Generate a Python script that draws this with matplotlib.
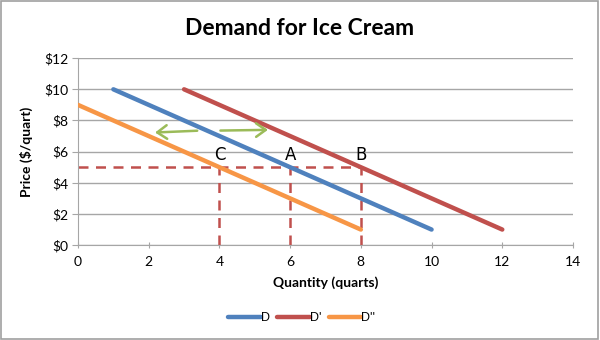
import numpy as np
import matplotlib
matplotlib.use("Agg")
from matplotlib import pyplot as plt
from matplotlib.patches import Rectangle

# Demand curves (quantity, price)
qty_D = [1, 10]
price_D = [10, 1]
qty_D1 = [3, 12]
price_D1 = [10, 1]
qty_D2 = [0, 8]
price_D2 = [9, 1]

# Points C, A, B at price $5
point_names = ["C", "A", "B"]
point_qty = [4, 6, 8]
point_price = 5

# shift arrows (tail x, head x, y)
arrow_left = [(3.45, 7.35), (2.1, 7.22)]
arrow_right = [(3.95, 7.35), (5.45, 7.4)]

x_ticks = [0, 2, 4, 6, 8, 10, 12, 14]
y_ticks = [0, 2, 4, 6, 8, 10, 12]

blue = "#4F81BD"
red = "#C0504D"
orange = "#F79646"
green = "#9BBB59"
grid = "#A6A6A6"

plt.rcParams['font.family'] = ['Lato', 'DejaVu Sans']

fig = plt.figure(figsize=(6, 3.4), dpi=100)
ax = fig.add_axes([0.13, 0.279, 0.825, 0.55])

# dashed guide lines
ax.plot([0, max(point_qty)], [point_price, point_price], color=red, lw=1.8,
        dashes=(4, 3), zorder=2)
for q in point_qty:
    ax.plot([q, q], [0, point_price], color=red, lw=1.8, dashes=(4, 3), zorder=2)

lD, = ax.plot(qty_D, price_D, color=blue, lw=3.2, solid_capstyle='round', label="D", zorder=3)
lD1, = ax.plot(qty_D1, price_D1, color=red, lw=3.2, solid_capstyle='round', label="D'", zorder=3)
lD2, = ax.plot(qty_D2, price_D2, color=orange, lw=3.2, solid_capstyle='round', label="D''", zorder=3)

for name, q in zip(point_names, point_qty):
    ax.text(q, point_price + 0.2, name, ha='center', va='bottom', fontsize=12,
            family=['DejaVu Sans'], zorder=5)

for (t, h) in [arrow_left, arrow_right]:
    ax.annotate("", xy=h, xytext=t,
                arrowprops=dict(arrowstyle='->,head_length=0.5,head_width=0.35',
                                color=green, lw=1.8, mutation_scale=14), zorder=4)

ax.set_xlim(0, 14)
ax.set_ylim(0, 12)
ax.set_xticks(x_ticks)
ax.set_yticks(y_ticks)
ax.set_yticklabels(["$%d" % v for v in y_ticks])
ax.tick_params(axis='both', labelsize=10, color=grid, length=4)
ax.tick_params(axis='x', direction='inout', pad=6)
ax.tick_params(axis='y', direction='out', pad=3)
ax.grid(axis='y', color=grid, lw=1)
ax.set_axisbelow(True)
for s in ['top', 'right']:
    ax.spines[s].set_visible(False)
for s in ['left', 'bottom']:
    ax.spines[s].set_color(grid)

ax.set_xlabel("Quantity (quarts)", fontsize=10, fontweight='bold', labelpad=6)
ax.set_ylabel("Price ($/quart)", fontsize=10, fontweight='bold', labelpad=8)

fig.text(0.5, 0.915, "Demand for Ice Cream", ha='center', va='center',
         fontsize=16.5, fontweight='bold')

fig.legend(handles=[lD, lD1, lD2], loc='center', bbox_to_anchor=(0.503, 0.065),
           ncol=3, frameon=False, handlelength=2.6, handletextpad=0.0,
           columnspacing=0.6, prop={'family': 'Liberation Sans', 'size': 9})

fig.patches.append(Rectangle((0.002, 0.003), 0.995, 0.993, transform=fig.transFigure,
                             fill=False, edgecolor="#A0A0A0", lw=1.2))

fig.savefig("out.png", dpi=100)
